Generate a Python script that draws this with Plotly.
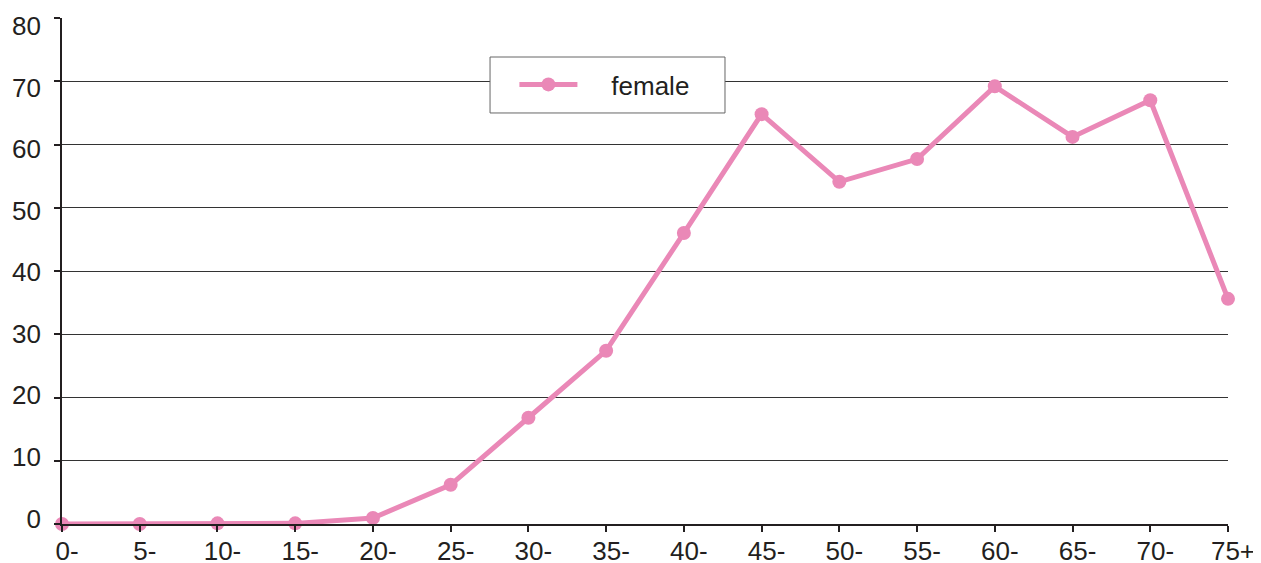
import plotly.graph_objects as go

# age groups and values
age_groups = ["0-", "5-", "10-", "15-", "20-", "25-", "30-", "35-",
              "40-", "45-", "50-", "55-", "60-", "65-", "70-", "75+"]
female = [0, 0, 0.1, 0.1, 0.95, 6.2, 16.8, 27.4,
          46.0, 64.8, 54.1, 57.7, 69.2, 61.2, 67.0, 35.6]

y_ticks = [0, 10, 20, 30, 40, 50, 60, 70, 80]

PINK = "#EA88B7"
INK = "#231F20"
FONT = "Liberation Sans, Arial, sans-serif"
NBSP = "\u00a0"

fig = go.Figure()

fig.add_trace(
    go.Scatter(
        x=age_groups,
        y=female,
        name=NBSP * 4 + "female",
        mode="lines+markers",
        line=dict(color=PINK, width=5),
        marker=dict(color=PINK, size=14),
        cliponaxis=False,
    )
)

# invisible helper so the second y axis (labels only) is drawn
fig.add_trace(
    go.Scatter(x=[age_groups[0]], y=[0], yaxis="y2", mode="markers",
               marker=dict(opacity=0), showlegend=False, hoverinfo="skip")
)

# legend frame drawn as a paper-space box, legend itself sits inside it
fig.add_shape(
    type="rect",
    xref="paper", yref="paper",
    x0=0.3671, x1=0.5686, y0=0.8123, y1=0.9229,
    line=dict(color="#666666", width=1),
    fillcolor="#FFFFFF",
    layer="above",
)

# page body has an 8px margin, so the figure is 8px smaller than the window
fig.update_layout(
    width=1253,
    height=555,
    margin=dict(l=54, r=33, t=10, b=39, autoexpand=False),
    plot_bgcolor="#FFFFFF",
    paper_bgcolor="#FFFFFF",
    font=dict(family=FONT, size=26, color=INK),
    showlegend=True,
    legend=dict(
        x=0.388,
        y=0.915,
        xanchor="left",
        yanchor="top",
        bgcolor="rgba(0,0,0,0)",
        borderwidth=0,
        font=dict(family=FONT, size=26, color=INK),
        itemwidth=58,
    ),
    xaxis=dict(
        type="category",
        range=[0, 15],
        showgrid=False,
        showline=True,
        linecolor=INK,
        linewidth=1.5,
        ticks="outside",
        ticklen=6,
        tickcolor=INK,
        tickwidth=1.5,
        ticklabelshift=5,
        ticklabelstandoff=-3,
        zeroline=False,
        automargin=False,
    ),
    yaxis=dict(
        range=[0, 80],
        tickvals=y_ticks,
        showticklabels=False,
        showgrid=True,
        gridcolor="#333333",
        gridwidth=1,
        showline=True,
        linecolor=INK,
        linewidth=1.5,
        ticks="outside",
        ticklen=6,
        tickcolor=INK,
        tickwidth=1.5,
        zeroline=False,
        automargin=False,
    ),
    # labels of the reference sit on a slightly tighter spacing than the grid
    yaxis2=dict(
        overlaying="y",
        side="left",
        range=[-0.894, 81.29],
        tickvals=y_ticks,
        showgrid=False,
        showline=False,
        zeroline=False,
        ticks="",
        ticklabelstandoff=20,
        automargin=False,
    ),
)

fig.write_html("out.html")
